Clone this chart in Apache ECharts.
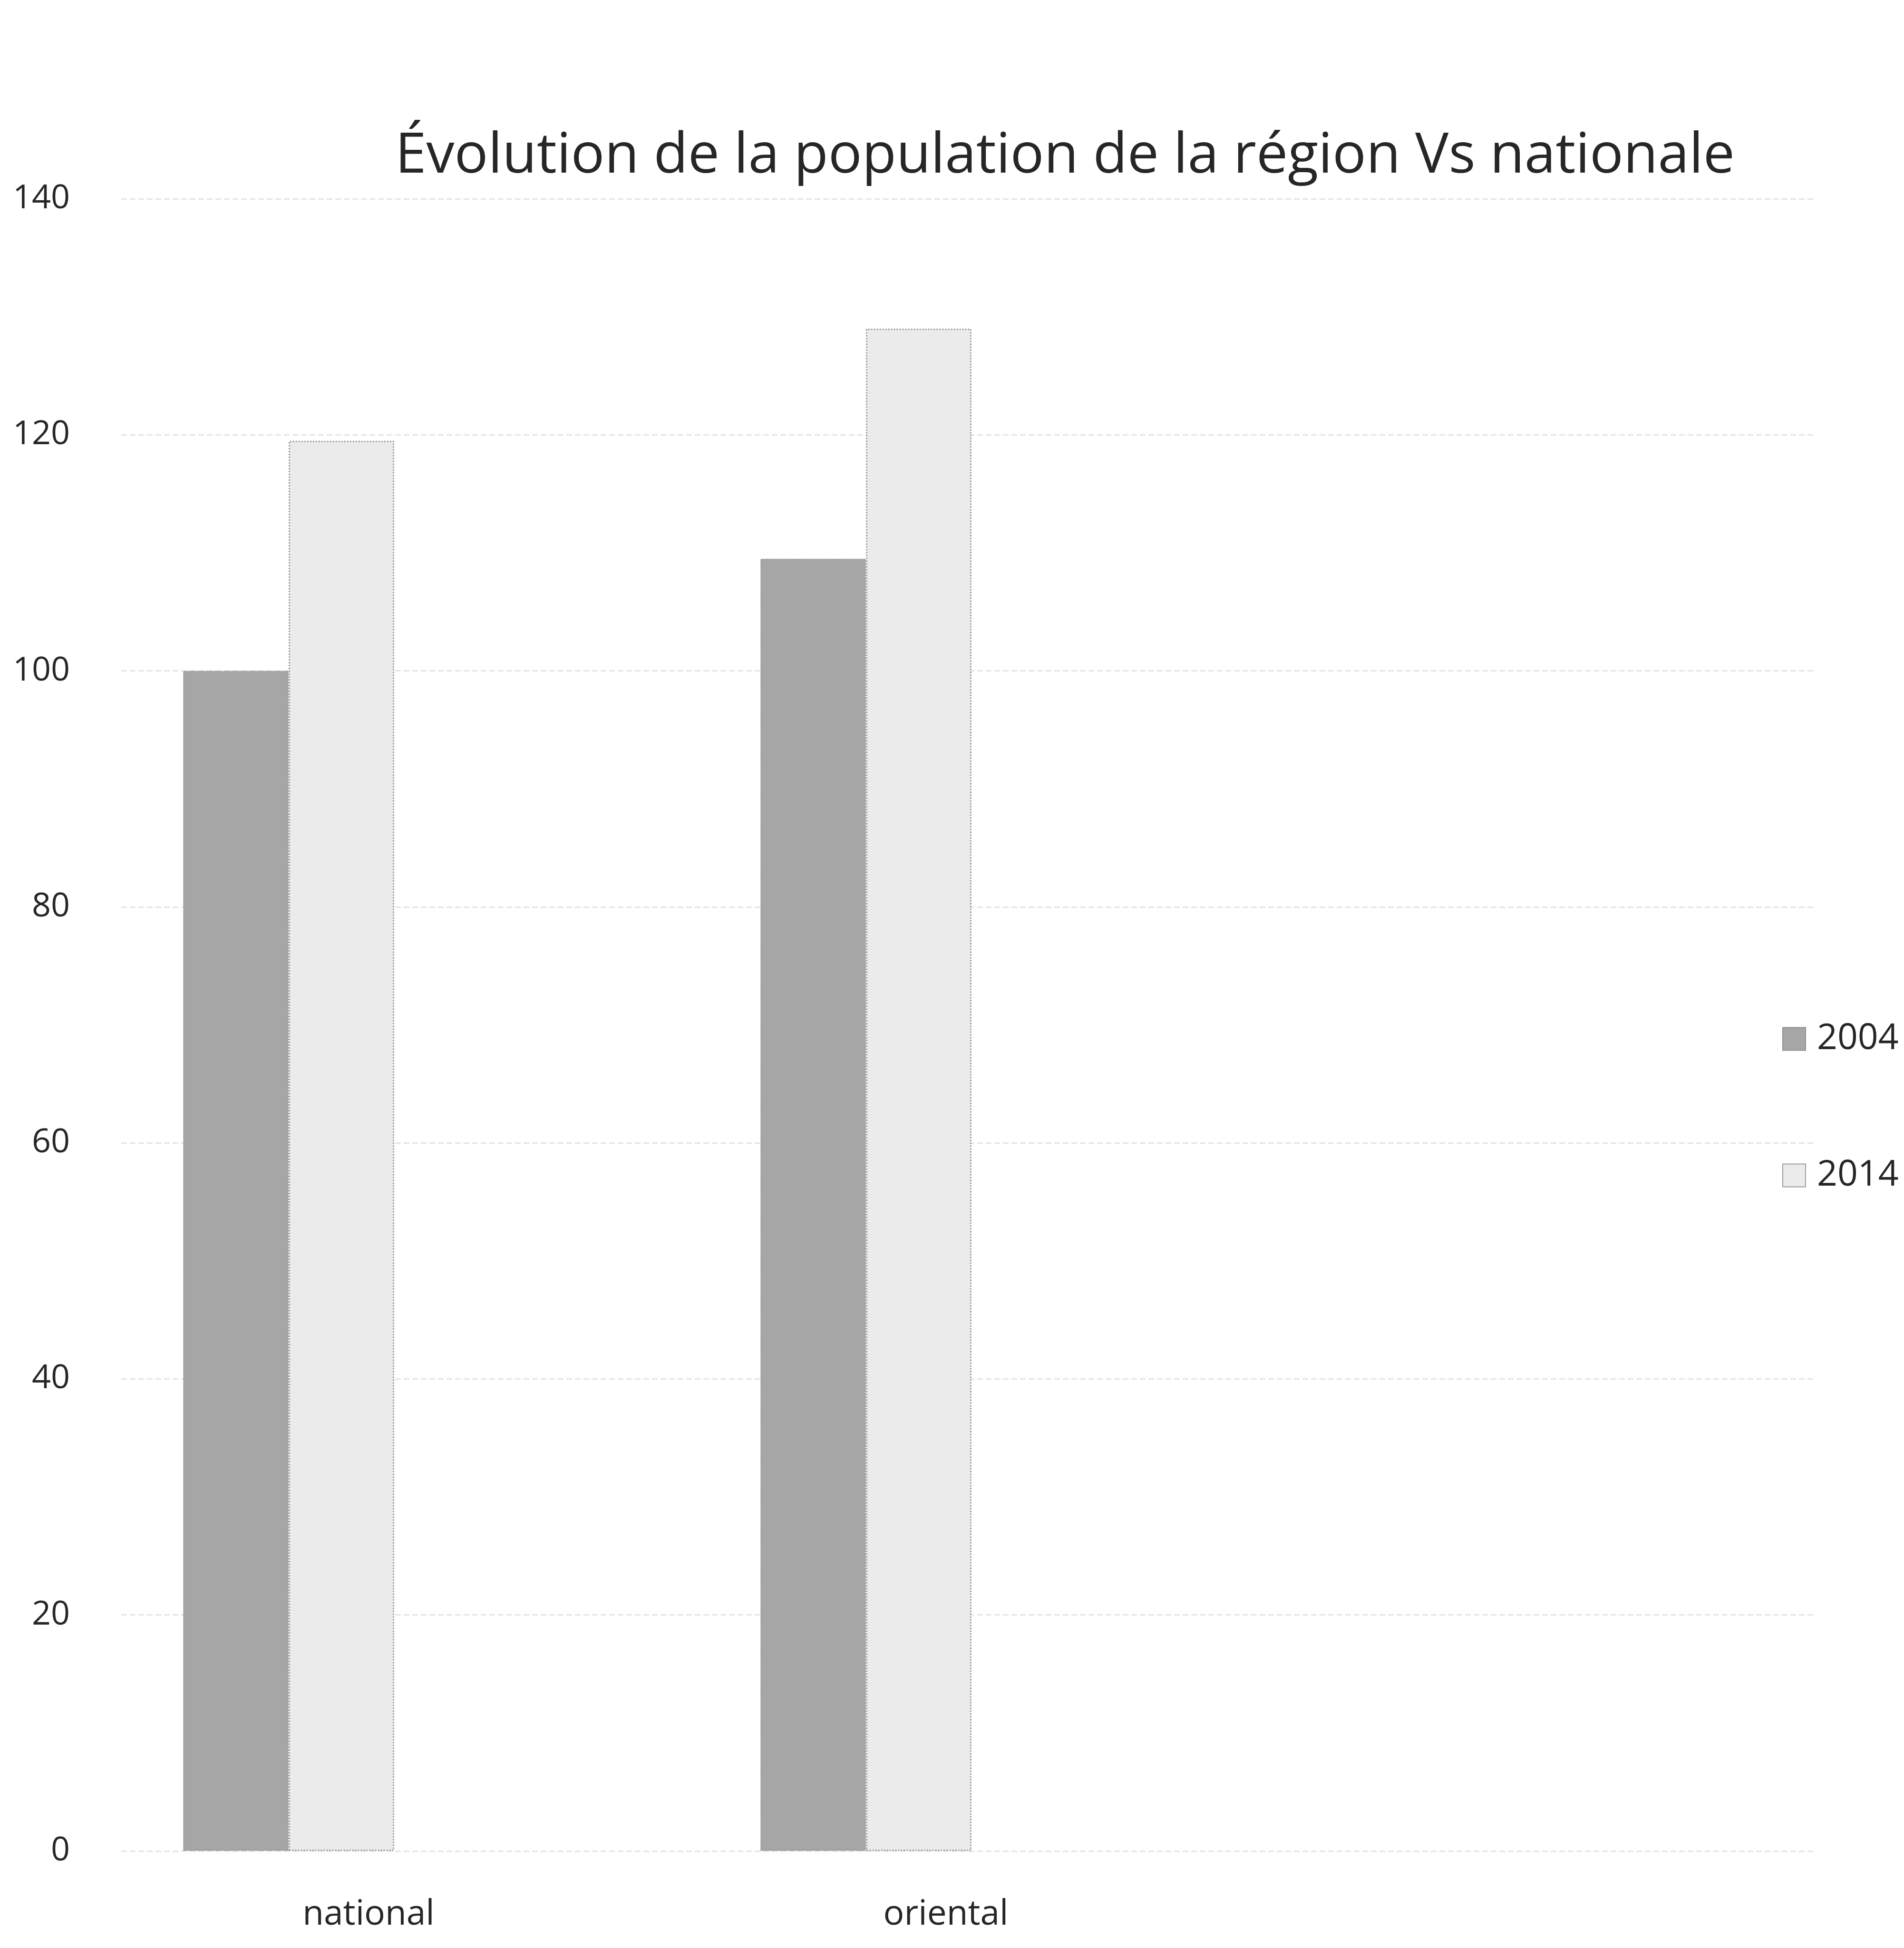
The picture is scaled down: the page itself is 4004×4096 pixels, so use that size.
<!DOCTYPE html>
<html>
<head>
<meta charset="utf-8">
<title>Évolution de la population</title>
<script src="https://cdn.jsdelivr.net/npm/echarts@6/dist/echarts.min.js"></script>
<style>
  html, body { margin: 0; padding: 0; background: #ffffff; }
  #chart { width: 4004px; height: 4096px; }
</style>
</head>
<body>
<div id="chart"></div>
<script>
// Population index, 2004 vs 2014
const categories = ['national', 'oriental'];
const seriesNames = ['2004', '2014'];
const values2004 = [100, 109.5];
const values2014 = [119.5, 129];
const yTicks = [0, 20, 40, 60, 80, 100, 120, 140];

const FONT = '"Open Sans", "Noto Sans", sans-serif';
const TEXT = '#262626';
const TOP = 418;
const BOTTOM = 204;

const chart = echarts.init(document.getElementById('chart'), null, { renderer: 'canvas' });

chart.setOption({
  backgroundColor: '#ffffff',
  animation: false,
  title: {
    text: 'Évolution de la population de la région Vs nationale',
    left: 831,
    top: 270,
    padding: 0,
    textStyle: { fontFamily: FONT, fontSize: 118, fontWeight: 'normal', color: TEXT }
  },
  legend: {
    data: seriesNames,
    orient: 'vertical',
    left: 3748,
    top: 2147,
    padding: 0,
    itemWidth: 48,
    itemHeight: 48,
    itemGap: 212,
    icon: 'rect',
    textStyle: { fontFamily: FONT, fontSize: 75, lineHeight: 75, color: TEXT, padding: [0, 0, 0, 19] }
  },
  grid: [
    // value grid carrying the tick labels and horizontal gridlines
    { left: 255, right: 191, top: TOP, bottom: BOTTOM, containLabel: false },
    // grid holding the category bands for the bars
    { left: 0, width: 2428, top: TOP, bottom: BOTTOM, containLabel: false }
  ],
  xAxis: [
    {
      gridIndex: 0, type: 'value', min: 0, max: 1,
      show: false
    },
    {
      gridIndex: 1, type: 'category', data: categories,
      axisLine: { show: false },
      axisTick: { show: false },
      axisLabel: {
        fontFamily: FONT, fontSize: 73, color: TEXT,
        margin: 98, padding: [0, 0, 0, 336]
      }
    }
  ],
  yAxis: [
    {
      gridIndex: 0, type: 'value', min: yTicks[0], max: yTicks[yTicks.length - 1], interval: 20,
      axisLine: { show: false },
      axisTick: { show: false },
      axisLabel: { fontFamily: FONT, fontSize: 70, color: TEXT, margin: 108 },
      splitLine: { lineStyle: { color: '#e4e4e4', width: 3, type: 'dashed' } }
    },
    {
      gridIndex: 1, type: 'value', min: yTicks[0], max: yTicks[yTicks.length - 1], interval: 20,
      show: false,
      splitLine: { show: false }
    }
  ],
  series: [
    {
      name: seriesNames[0], type: 'bar', xAxisIndex: 1, yAxisIndex: 1,
      data: values2004, barWidth: 222, barGap: '0%',
      itemStyle: { color: '#a6a6a6', borderColor: '#8f8f8f', borderWidth: 2, borderType: 'dotted' }
    },
    {
      name: seriesNames[1], type: 'bar', xAxisIndex: 1, yAxisIndex: 1,
      data: values2014, barWidth: 222, barGap: '0%',
      itemStyle: { color: '#ebebeb', borderColor: '#9c9c9c', borderWidth: 3, borderType: 'dotted' }
    }
  ]
});
</script>
</body>
</html>
